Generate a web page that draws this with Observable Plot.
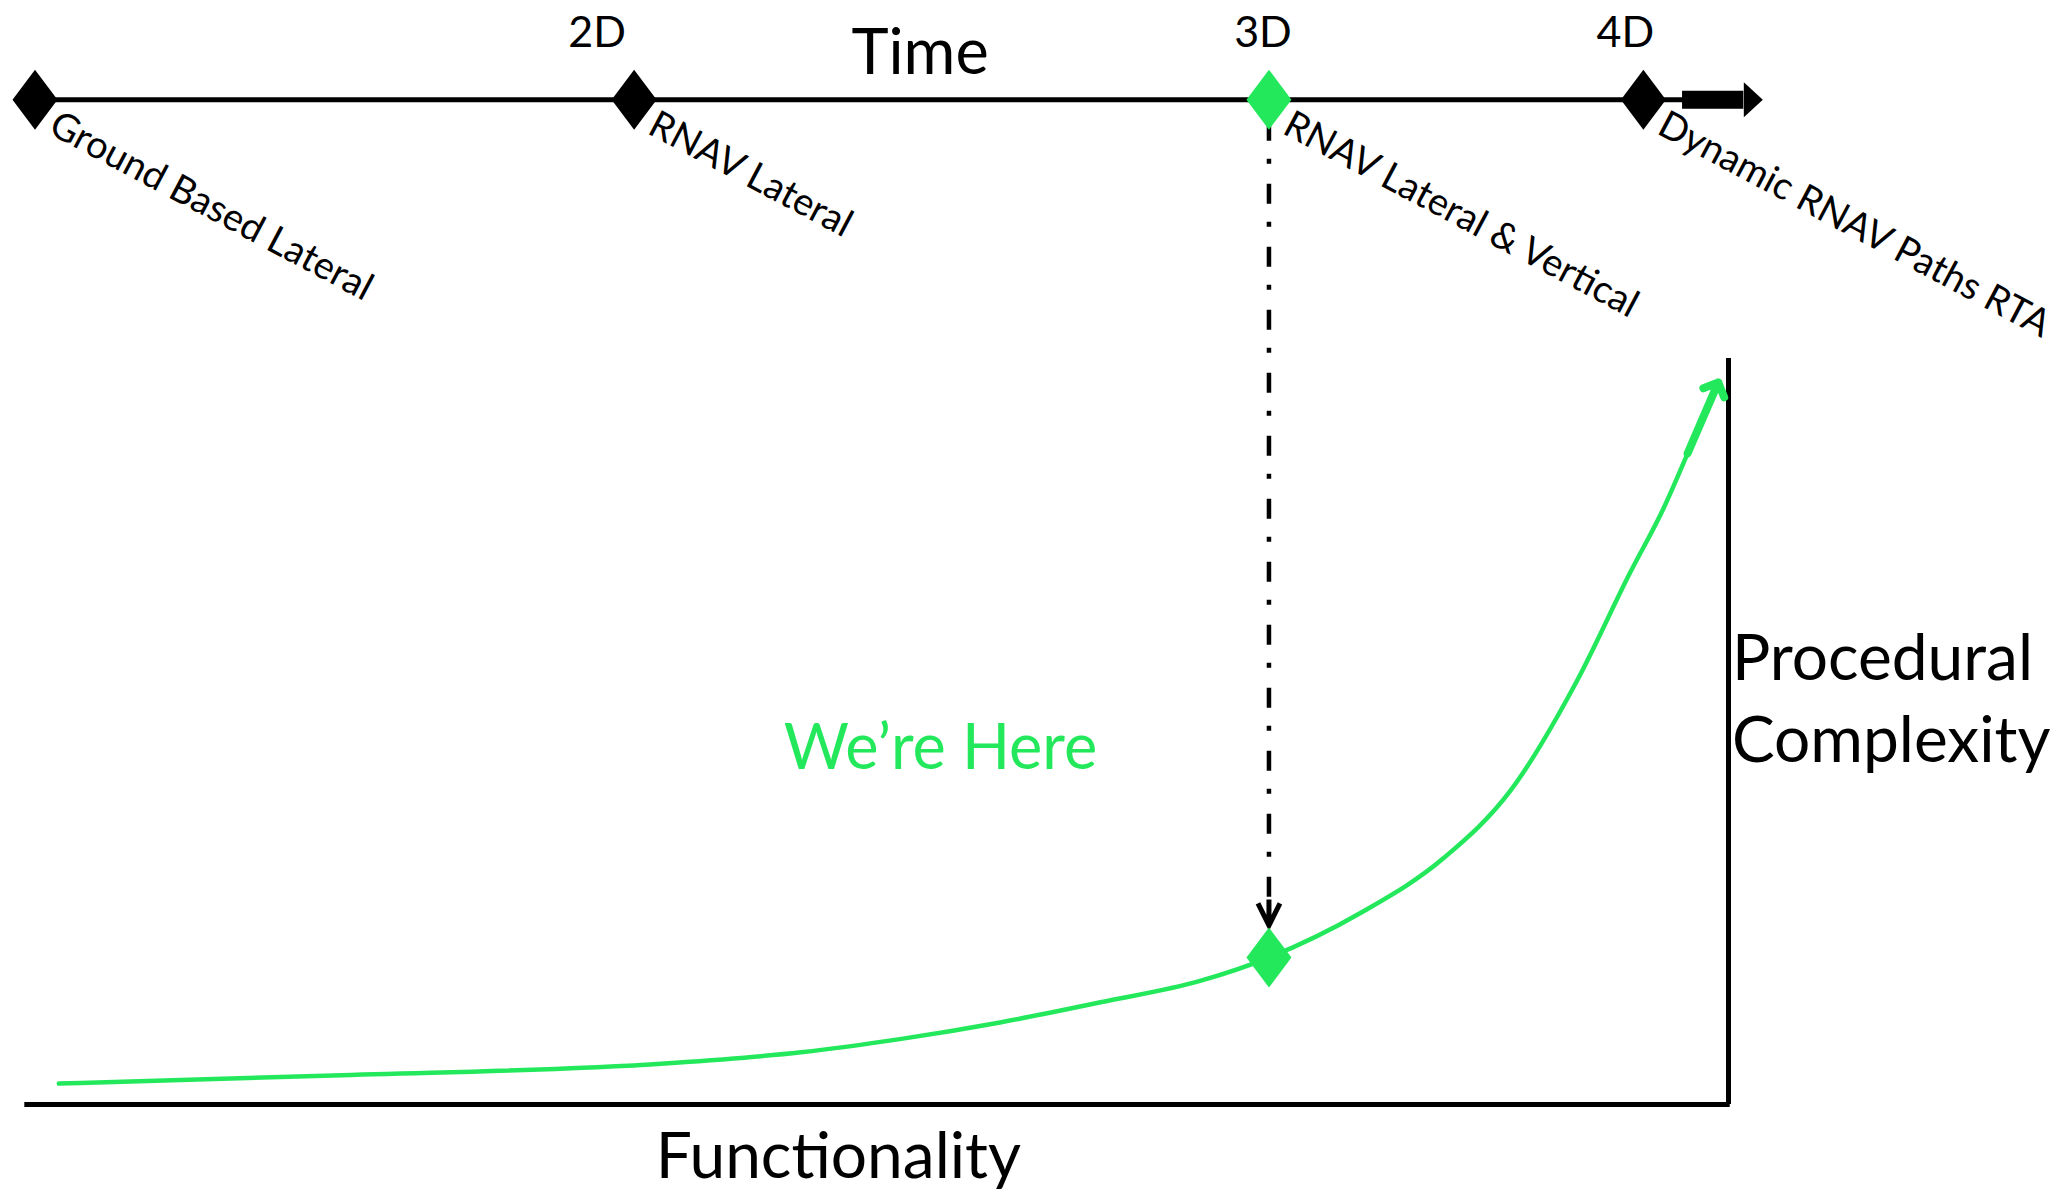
<!DOCTYPE html>
<html><head><meta charset="utf-8">
<script src="https://cdn.jsdelivr.net/npm/d3@7"></script>
<script src="https://cdn.jsdelivr.net/npm/@observablehq/plot@0.6"></script>
<style>
html,body{margin:0;padding:0;background:#fff;}
#chart svg{display:block;}
</style></head><body><div id="chart"></div>
<script>
// ---- Time line milestones ----
const milestones = ["Ground Based Lateral", "RNAV Lateral", "RNAV Lateral & Vertical", "Dynamic RNAV Paths RTA"];
const milestoneEra = ["", "2D", "3D", "4D"];
const milestoneTime = [0.5, 35.7, 73.0, 95.0];
const currentMilestone = 2;
const timeLevel = 134.7;

// ---- Functionality vs procedural complexity curve ----
const functionality = [1.9, 18.0, 37.5, 45.5, 51.4, 57.2, 63.1, 69.0, 73.0, 78.4, 83.3, 87.2, 91.1, 94.2, 96.2, 97.6];
const complexity    = [2.8, 3.9, 5.5, 7.0, 8.8, 11.0, 13.7, 16.6, 19.7, 25.7, 33.1, 42.1, 56.8, 71.2, 80.0, 87.3];
const curveTip = [99.4, 96.8];
const hereComplexity = 19.7;

// ---- Text ----
const timeTitle = "Time";
const hereLabel = "We\u2019re Here";
const xTitle = "Functionality";
const yTitle = "Procedural\nComplexity";

const green = "#24e85c";
const eraOffset = {"2D": -37, "3D": -6, "4D": -18};
const timeline = milestones.map((m, i) => ({name: m, era: milestoneEra[i], t: milestoneTime[i], current: i === currentMilestone}));
const curve = functionality.map((f, i) => ({f, c: complexity[i]}));

const diamond = {draw(ctx) { ctx.moveTo(0, -30); ctx.lineTo(22.5, 0); ctx.lineTo(0, 30); ctx.lineTo(-22.5, 0); ctx.closePath(); }};
const headRight = {draw(ctx) { ctx.moveTo(0, -17.5); ctx.lineTo(19, 0); ctx.lineTo(0, 17.5); ctx.closePath(); }};
const chevronDown = {draw(ctx) { ctx.moveTo(-11, -22); ctx.lineTo(0, 0); ctx.lineTo(11, -22); ctx.moveTo(0, -26); ctx.lineTo(0, 0); }};

const eraMarks = timeline.filter(d => d.era).map(d =>
  Plot.text([d], {x: "t", y: 141.7, text: "era", dx: eraOffset[d.era], fontSize: 43, lineAnchor: "bottom", textAnchor: "middle", fill: "black"})
);

const chart = Plot.plot({
  width: 2059,
  height: 1191,
  x: {domain: [0, 100], range: [26, 1728], axis: null},
  y: {domain: [0, 100], range: [1104, 358], axis: null},
  style: {fontFamily: "Lato, 'Open Sans', sans-serif", background: "white", color: "black"},
  marks: [
    // axes frame
    Plot.ruleY([0], {x1: -0.1, x2: 100.1, stroke: "black", strokeWidth: 5}),
    Plot.ruleX([100], {y1: 0, y2: 100, stroke: "black", strokeWidth: 5}),
    // time line
    Plot.ruleY([timeLevel], {x1: milestoneTime[0], x2: 97.6, stroke: "black", strokeWidth: 5}),
    Plot.ruleY([timeLevel], {x1: 97.3, x2: 100.9, stroke: "black", strokeWidth: 18}),
    Plot.dot([100.9], {x: d => d, y: timeLevel, symbol: headRight, fill: "black", r: 10}),
    // dash-dot drop line to current position
    Plot.ruleX([milestoneTime[currentMilestone]], {y1: 131.8, y2: 24.3, stroke: "black", strokeWidth: 4.5, strokeDasharray: "20,18,5,20"}),
    Plot.dot([milestoneTime[currentMilestone]], {x: d => d, y: 24.0, symbol: chevronDown, fill: "none", stroke: "black", strokeWidth: 5, r: 10}),
    // milestone diamonds
    Plot.dot(timeline, {x: "t", y: timeLevel, symbol: diamond, fill: d => d.current ? green : "black", r: 10}),
    ...eraMarks,
    Plot.text(timeline, {x: "t", y: timeLevel, text: "name", rotate: 28, textAnchor: "start", lineAnchor: "bottom", dx: 12, dy: 33, fontSize: 38, fill: "black"}),
    Plot.text([timeTitle], {x: 52.5, y: 138.1, text: d => d, fontSize: 63, lineAnchor: "bottom", fill: "black"}),
    // curve
    Plot.line(curve, {x: "f", y: "c", curve: "monotone-x", stroke: green, strokeWidth: 4.5}),
    Plot.arrow([0], {x1: functionality[functionality.length - 1], y1: complexity[complexity.length - 1], x2: curveTip[0], y2: curveTip[1], stroke: green, strokeWidth: 8, headLength: 3, headAngle: 90}),
    Plot.dot([milestoneTime[currentMilestone]], {x: d => d, y: hereComplexity, symbol: diamond, fill: green, r: 10}),
    Plot.text([hereLabel], {x: 53.7, y: 45.0, text: d => d, fontSize: 63, lineAnchor: "bottom", fill: green}),
    // axis titles
    Plot.text([yTitle], {x: 100.2, y: 45.9, text: d => d, fontSize: 64, lineHeight: 1.28, lineAnchor: "bottom", textAnchor: "start", fill: "black"}),
    Plot.text([xTitle], {x: 47.7, y: -9.8, text: d => d, fontSize: 64, lineAnchor: "bottom", fill: "black"})
  ]
});
document.getElementById("chart").append(chart);
</script>
</body></html>
